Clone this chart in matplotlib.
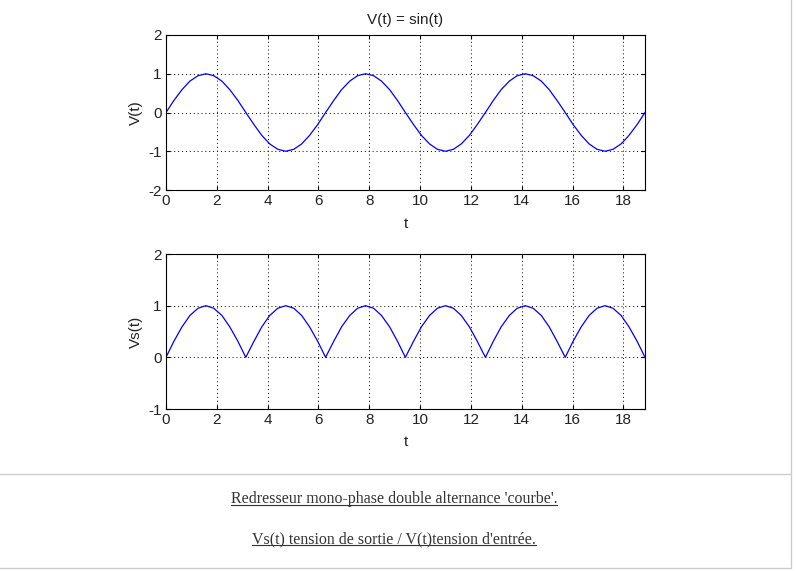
import matplotlib
matplotlib.use('Agg')
import matplotlib.pyplot as plt
from matplotlib.lines import Line2D

# valeurs (pas de pi/10, t de 0 a 6*pi)
t_values = [0.00, 0.31, 0.63, 0.94, 1.26, 1.57, 1.88, 2.20, 2.51, 2.83,
            3.14, 3.46, 3.77, 4.08, 4.40, 4.71, 5.03, 5.34, 5.65, 5.97,
            6.28, 6.60, 6.91, 7.23, 7.54, 7.85, 8.17, 8.48, 8.80, 9.11,
            9.42, 9.74, 10.05, 10.37, 10.68, 11.00, 11.31, 11.62, 11.94, 12.25,
            12.57, 12.88, 13.19, 13.51, 13.82, 14.14, 14.45, 14.77, 15.08, 15.39,
            15.71, 16.02, 16.34, 16.65, 16.96, 17.28, 17.59, 17.91, 18.22, 18.54,
            18.85]
v_values = [0.00, 0.31, 0.59, 0.81, 0.95, 1.00, 0.95, 0.81, 0.59, 0.31,
            0.00, -0.31, -0.59, -0.81, -0.95, -1.00, -0.95, -0.81, -0.59, -0.31,
            0.00, 0.31, 0.59, 0.81, 0.95, 1.00, 0.95, 0.81, 0.59, 0.31,
            0.00, -0.31, -0.59, -0.81, -0.95, -1.00, -0.95, -0.81, -0.59, -0.31,
            0.00, 0.31, 0.59, 0.81, 0.95, 1.00, 0.95, 0.81, 0.59, 0.31,
            0.00, -0.31, -0.59, -0.81, -0.95, -1.00, -0.95, -0.81, -0.59, -0.31,
            0.00]
vs_values = [0.00, 0.31, 0.59, 0.81, 0.95, 1.00, 0.95, 0.81, 0.59, 0.31,
             0.00, 0.31, 0.59, 0.81, 0.95, 1.00, 0.95, 0.81, 0.59, 0.31,
             0.00, 0.31, 0.59, 0.81, 0.95, 1.00, 0.95, 0.81, 0.59, 0.31,
             0.00, 0.31, 0.59, 0.81, 0.95, 1.00, 0.95, 0.81, 0.59, 0.31,
             0.00, 0.31, 0.59, 0.81, 0.95, 1.00, 0.95, 0.81, 0.59, 0.31,
             0.00, 0.31, 0.59, 0.81, 0.95, 1.00, 0.95, 0.81, 0.59, 0.31,
             0.00]
x_ticks = [0, 2, 4, 6, 8, 10, 12, 14, 16, 18]
y_ticks_1 = [-2, -1, 0, 1, 2]
y_ticks_2 = [-1, 0, 1, 2]
caption = ["Redresseur mono-phase double alternance 'courbe'.",
           "Vs(t) tension de sortie / V(t)tension d'entrée."]

plt.rcParams['font.family'] = ['Liberation Sans', 'DejaVu Sans']
plt.rcParams['font.size'] = 11
plt.rcParams['axes.unicode_minus'] = False

W, H = 796, 571
fig = plt.figure(figsize=(W / 100, H / 100), dpi=100)
fig.patch.set_facecolor('white')


def make_axes(top, bottom, yticks, ylabel):
  ax = fig.add_axes([166 / W, 1 - bottom / H, (645 - 166) / W, (bottom - top) / H])
  ax.set_xlim(0, t_values[-1])
  ax.set_ylim(yticks[0], yticks[-1])
  ax.set_xticks(x_ticks)
  ax.set_yticks(yticks)
  ax.grid(True, linestyle=(0, (1, 3)), color='black', linewidth=0.7)
  ax.tick_params(direction='in', length=3, top=True, right=True, pad=3, labelsize=11,
                 labelcolor='#222222')
  for s in ax.spines.values():
    s.set_linewidth(0.8)
  ax.set_xlabel('t', fontsize=11, labelpad=6, color='#222222')
  ax.set_ylabel(ylabel, fontsize=11, labelpad=4, color='#222222')
  return ax


ax1 = make_axes(35, 190, y_ticks_1, 'V(t)')
ax1.plot(t_values, v_values, color='blue', linewidth=0.9)
ax1.set_title('V(t) = sin(t)', fontsize=11, pad=8, color='#222222')

ax2 = make_axes(254, 409, y_ticks_2, 'Vs(t)')
ax2.plot(t_values, vs_values, color='blue', linewidth=0.9)

# cadre de la page
grey = '#cccccc'
fig.add_artist(Line2D([0, 790 / W], [1 - 474 / H, 1 - 474 / H], color=grey, linewidth=1))
fig.add_artist(Line2D([0, 790 / W], [1 - 568 / H, 1 - 568 / H], color=grey, linewidth=1))
fig.add_artist(Line2D([791 / W, 791 / W], [1 - 568 / H, 1], color=grey, linewidth=1))

# legende soulignee
texts = []
for y, txt in zip([499, 539], caption):
  tx = fig.text(394 / W, 1 - y / H, txt, ha='center', va='center',
                family='Liberation Serif', fontsize=11.4, color='#333333')
  texts.append(tx)

fig.canvas.draw()
r = fig.canvas.get_renderer()
for tx in texts:
  bb = tx.get_window_extent(r).transformed(fig.transFigure.inverted())
  yl = bb.y0 + 0.1 * (bb.y1 - bb.y0)
  fig.add_artist(Line2D([bb.x0, bb.x1], [yl, yl], color='#333333', linewidth=0.8))

fig.savefig('out.png', dpi=100)
